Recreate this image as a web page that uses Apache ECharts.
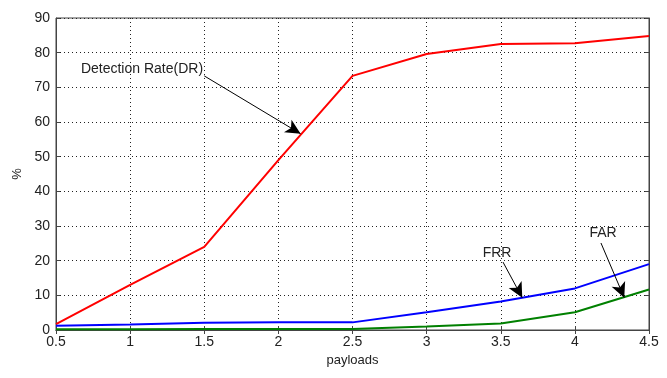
<!DOCTYPE html>
<html>
<head>
<meta charset="utf-8">
<script src="https://cdn.jsdelivr.net/npm/echarts@6/dist/echarts.min.js"></script>
<style>
  html, body { margin: 0; padding: 0; background: #fff; }
  #chart { width: 667px; height: 378px; }
</style>
</head>
<body>
<div id="chart"></div>
<script>
// payloads (x) and the three rates (%)
const payloads = [0.5, 1, 1.5, 2, 2.5, 3, 3.5, 4, 4.5]
const detectionRate = [1.7, 13, 24, 49, 73.3, 79.6, 82.5, 82.7, 84.8]
const frr = [1.2, 1.6, 2.1, 2.2, 2.2, 5.1, 8.2, 12, 19]
const far = [0.2, 0.2, 0.3, 0.3, 0.3, 1.0, 1.9, 5.1, 11.7]

const font = 'Liberation Sans, Arial, sans-serif'

// arrow annotations in data coordinates: [text pos, arrow start, arrow end]
const notes = [
  { text: 'Detection Rate(DR)', at: [1.08, 75.3], from: [1.50, 73.3], to: [2.15, 56.6] },
  { text: 'FRR', at: [3.475, 22.2], from: [3.515, 19.6], to: [3.645, 9.3] },
  { text: 'FAR', at: [4.19, 28.0], from: [4.176, 25.1], to: [4.333, 9.3] }
]

const pairs = (ys) => payloads.map((x, i) => [x, ys[i]])

const chart = echarts.init(document.getElementById('chart'), null, { renderer: 'canvas' })

const axisCommon = {
  axisLine: { show: true, lineStyle: { color: '#444', width: 1 } },
  axisTick: { show: true, inside: true, length: 4, lineStyle: { color: '#444' } },
  axisLabel: { color: '#222', fontSize: 14, fontFamily: font },
  splitLine: { show: false }
}

chart.setOption({
  animation: false,
  grid: { left: 56, right: 18, top: 18, bottom: 48, show: true, borderColor: '#444', borderWidth: 1 },
  xAxis: [
    Object.assign({}, axisCommon, {
      type: 'value', min: 0.5, max: 4.5, interval: 0.5,
      name: 'payloads', nameLocation: 'middle', nameGap: 21,
      nameTextStyle: { color: '#222', fontSize: 13, fontFamily: font },
      axisLabel: { color: '#222', fontSize: 14, fontFamily: font, margin: 5 },
      splitLine: { show: true, lineStyle: { color: '#222', type: [1, 3], width: 1 } }
    }),
    Object.assign({}, axisCommon, {
      type: 'value', position: 'top', min: 0.5, max: 4.5, interval: 0.5,
      axisLabel: { show: false }
    })
  ],
  yAxis: [
    Object.assign({}, axisCommon, {
      type: 'value', min: 0, max: 90, interval: 10,
      name: '%', nameLocation: 'middle', nameGap: 32, nameRotate: 90,
      nameTextStyle: { color: '#222', fontSize: 13, fontFamily: font },
      axisLabel: { color: '#222', fontSize: 14, fontFamily: font, margin: 6 },
      splitLine: { show: true, lineStyle: { color: '#222', type: [1, 3], width: 1 } }
    }),
    Object.assign({}, axisCommon, {
      type: 'value', position: 'right', min: 0, max: 90, interval: 10,
      axisLabel: { show: false }
    })
  ],
  series: [
    {
      name: 'DR', type: 'line', data: pairs(detectionRate), showSymbol: false,
      lineStyle: { color: '#ff0000', width: 2 }, z: 3,
      markLine: {
        silent: true, symbol: ['none', 'arrow'], symbolSize: [11, 15],
        lineStyle: { color: '#000', width: 1, type: 'solid' },
        label: { show: false },
        data: notes.map(n => [{ coord: n.from }, { coord: n.to }])
      },
      markPoint: {
        silent: true, symbol: 'rect', symbolSize: 1,
        itemStyle: { color: 'rgba(0,0,0,0)' },
        label: { show: true, color: '#222', fontSize: 14, fontFamily: font, position: 'inside',
          formatter: p => p.name },
        data: notes.map(n => ({ name: n.text, coord: n.at }))
      }
    },
    {
      name: 'FRR', type: 'line', data: pairs(frr), showSymbol: false,
      lineStyle: { color: '#0000ff', width: 2 }, z: 3
    },
    {
      name: 'FAR', type: 'line', data: pairs(far), showSymbol: false,
      lineStyle: { color: '#008000', width: 2 }, z: 3
    }
  ]
})
</script>
</body>
</html>
